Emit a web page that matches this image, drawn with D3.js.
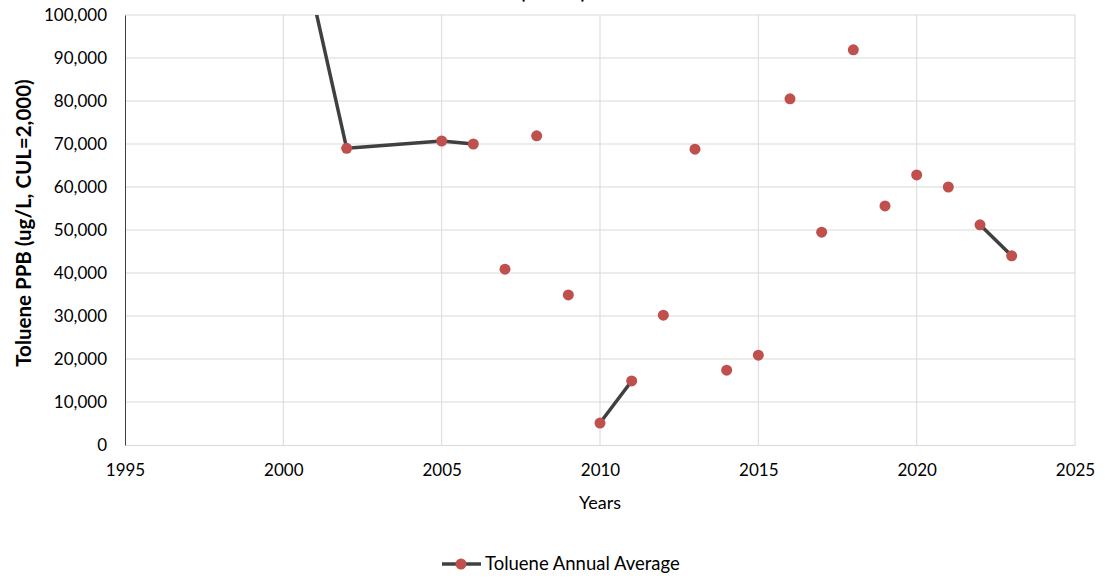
<!DOCTYPE html>
<html><head><meta charset="utf-8">
<script src="https://cdn.jsdelivr.net/npm/d3@7/dist/d3.min.js"></script>
<style>body{margin:0;background:#fff}svg{display:block}text{font-family:Lato,"Open Sans",sans-serif}</style>
</head><body><div id="chart"></div>
<script>
const years  = [2001, 2002, 2005, 2006, 2007, 2008, 2009, 2010, 2011, 2012, 2013, 2014, 2015, 2016, 2017, 2018, 2019, 2020, 2021, 2022, 2023];
const values = [101800, 69000, 70700, 70000, 40900, 71900, 34900, 5100, 14900, 30200, 68800, 17400, 20900, 80500, 49500, 91900, 55600, 62800, 60000, 51200, 44000];
// 1 = line drawn from the previous point to this one
const joinPrev = [0, 1, 1, 1, 0, 0, 0, 0, 1, 0, 0, 0, 0, 0, 0, 0, 0, 0, 0, 0, 1];
const xTicks = [1995, 2000, 2005, 2010, 2015, 2020, 2025];
const yTicks = [0, 10000, 20000, 30000, 40000, 50000, 60000, 70000, 80000, 90000, 100000];
const seriesName = "Toluene Annual Average";
const yTitle = "Toluene PPB (ug/L, CUL=2,000)";
const xTitle = "Years";
const chartTitle = "(MW-1)";

const W = 1105, H = 580;
const m = {left:125, right:30, top:15, bottom:135};
const svg = d3.select("#chart").append("svg").attr("width", W).attr("height", H);
const x = d3.scaleLinear().domain([1995, 2025]).range([m.left, W - m.right]);
const y = d3.scaleLinear().domain([0, 100000]).range([H - m.bottom, m.top]);

svg.append("defs").append("clipPath").attr("id","clip").append("rect")
  .attr("x", x(1995)).attr("y", y(100000)).attr("width", x(2025)-x(1995)).attr("height", y(0)-y(100000));

// title (second line; mostly above the visible area, as in the reference)
svg.append("text").attr("x", 553).attr("y", -1).attr("text-anchor","middle")
  .attr("font-size", 19).attr("font-weight","bold").attr("fill","#000").text(chartTitle);

// gridlines
svg.append("g").selectAll("line").data(yTicks.slice(1)).join("line")
  .attr("x1", x(1995)).attr("x2", x(2025)).attr("y1", d=>y(d)).attr("y2", d=>y(d))
  .attr("stroke","#d9d9d9").attr("stroke-width",1);
svg.append("g").selectAll("line").data(xTicks.slice(1)).join("line")
  .attr("x1", d=>x(d)).attr("x2", d=>x(d)).attr("y1", y(0)).attr("y2", y(100000))
  .attr("stroke","#d9d9d9").attr("stroke-width",1);

// axes
const xAxis = svg.append("g").attr("transform", `translate(0,${y(0)})`)
  .call(d3.axisBottom(x).tickValues(xTicks).tickFormat(d3.format("d")).tickSize(0).tickPadding(19));
xAxis.select(".domain").attr("stroke","#d9d9d9");
xAxis.selectAll("text").attr("font-size",17).attr("fill","#000").style("font-family","Lato");
const yAxis = svg.append("g").attr("transform", `translate(${x(1995)},0)`)
  .call(d3.axisLeft(y).tickValues(yTicks).tickFormat(d3.format(",")).tickSize(0).tickPadding(18));
yAxis.select(".domain").attr("stroke","#404040");
yAxis.selectAll("text").attr("font-size",17).attr("fill","#000").style("font-family","Lato");

// axis titles
svg.append("text").attr("transform", `translate(31,${(y(0)+y(100000))/2 - 7}) rotate(-90)`)
  .attr("text-anchor","middle").attr("font-size",20.5).attr("font-weight","bold").text(yTitle);
svg.append("text").attr("x", (x(1995)+x(2025))/2).attr("y", 509).attr("text-anchor","middle")
  .attr("font-size",18).text(xTitle);

// data
const pts = years.map((yr,i)=>({yr, v:values[i], j:joinPrev[i]}));
const line = d3.line().x(d=>x(d.yr)).y(d=>y(d.v));
const plot = svg.append("g").attr("clip-path","url(#clip)");
const segs = [];
pts.forEach((p,i)=>{ if(i>0 && p.j) segs.push([pts[i-1], p]); });
plot.selectAll("path.seg").data(segs).join("path").attr("class","seg")
  .attr("d", line).attr("fill","none").attr("stroke","#404040").attr("stroke-width",3.5).attr("stroke-linecap","round");
plot.selectAll("circle").data(pts.filter(p=>p.v<=100000)).join("circle")
  .attr("cx", d=>x(d.yr)).attr("cy", d=>y(d.v)).attr("r",5.5).attr("fill","#c0504d");

// legend
const lg = svg.append("g");
lg.append("line").attr("x1",442).attr("x2",481).attr("y1",564).attr("y2",564).attr("stroke","#404040").attr("stroke-width",3.5);
lg.append("circle").attr("cx",461).attr("cy",564).attr("r",5.5).attr("fill","#c0504d");
lg.append("text").attr("x",485).attr("y",570).attr("font-size",18.5).text(seriesName);
</script></body></html>
